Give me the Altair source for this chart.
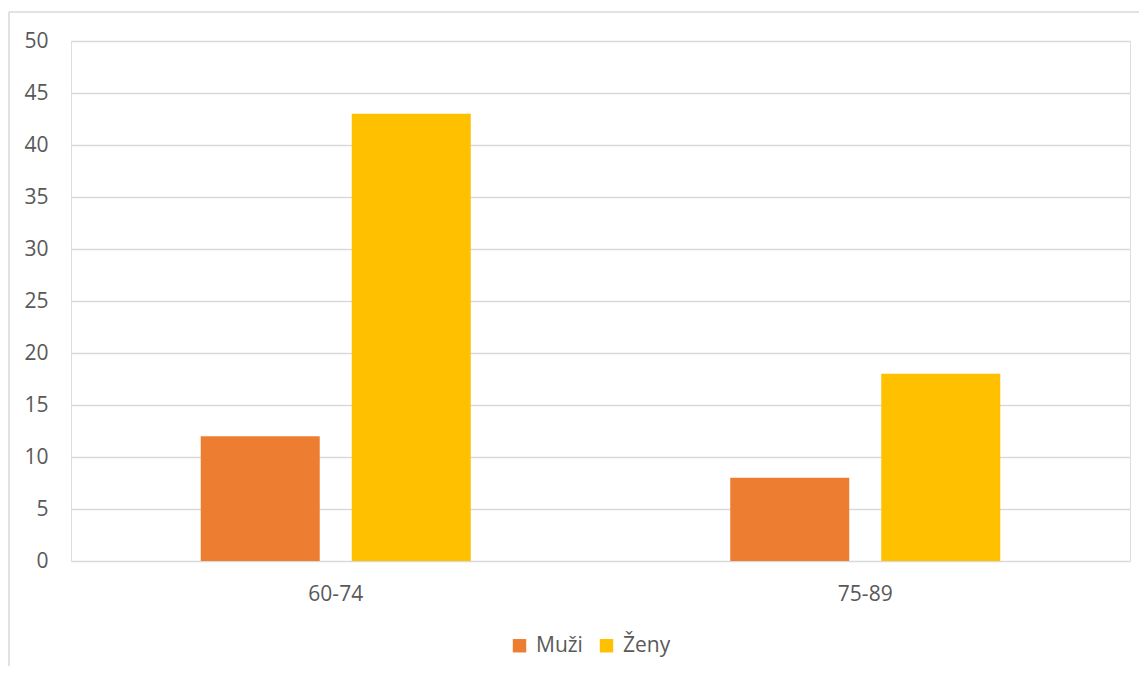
import altair as alt
import pandas as pd

categories = ["60-74", "75-89"]
series = ["Muži", "Ženy"]
muzi = [12, 8]
zeny = [43, 18]
colors = ["#ED7D31", "#FFC000"]

rows = []
for i, c in enumerate(categories):
    rows.append({"kat": c, "pohlavi": series[0], "hodnota": muzi[i]})
    rows.append({"kat": c, "pohlavi": series[1], "hodnota": zeny[i]})
df = pd.DataFrame(rows)

FONT = "Open Sans"
FS = 21
W, H = 1059, 520

one = pd.DataFrame({"a": [0]})
border_top = alt.Chart(one).mark_rule(
    stroke="#D9D9D9", strokeWidth=1.5, clip=False
).encode(x=alt.value(-62), x2=alt.value(W + 300), y=alt.value(-29))
border_left = alt.Chart(one).mark_rule(
    stroke="#D9D9D9", strokeWidth=1.5, clip=False
).encode(x=alt.value(-62), y=alt.value(-29), y2=alt.value(H + 300))

bars = alt.Chart(df).mark_bar().encode(
    x=alt.X("kat:N", sort=categories,
            scale=alt.Scale(paddingInner=0, paddingOuter=0, round=False),
            axis=alt.Axis(title=None, labelAngle=0, domain=False, ticks=False,
                          labelPadding=22, labelFontSize=FS, labelColor="#595959",
                          labelFont=FONT)),
    xOffset=alt.XOffset("pohlavi:N", sort=series,
                        scale=alt.Scale(paddingInner=0.212, paddingOuter=0.859, round=False)),
    y=alt.Y("hodnota:Q", scale=alt.Scale(domain=[0, 50], nice=False),
            axis=alt.Axis(title=None, values=list(range(0, 51, 5)), domain=False,
                          ticks=False, labelPadding=23, labelFontSize=FS,
                          labelColor="#595959", labelFont=FONT,
                          gridColor="#D9D9D9", gridWidth=1.3)),
    color=alt.Color("pohlavi:N", sort=series,
                    scale=alt.Scale(domain=series, range=colors),
                    legend=alt.Legend(title=None, orient="none", direction="horizontal",
                                      legendX=438, legendY=594, symbolType="square",
                                      symbolSize=180, symbolStrokeWidth=0,
                                      labelFontSize=FS, labelColor="#595959",
                                      labelFont=FONT, labelOffset=6,
                                      columnPadding=13)),
)

chart = alt.layer(border_top, border_left, bars).properties(
    width=W, height=H,
    autosize=alt.AutoSizeParams(type="none"),
    padding={"left": 63, "top": 33, "right": 9, "bottom": 105},
).configure_view(strokeWidth=0).configure(background="white")

chart.save("out.html", embed_options={"renderer": "svg", "actions": False})
